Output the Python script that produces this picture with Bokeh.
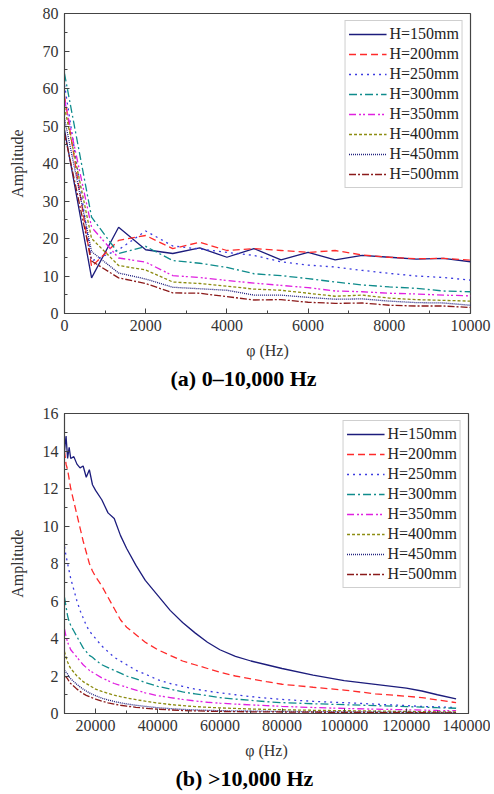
from bokeh.plotting import figure
from bokeh.models import Legend, LegendItem, SingleIntervalTicker, Title, Range1d
from bokeh.layouts import column
from bokeh.embed import file_html
from bokeh.resources import INLINE

labels = ["H=150mm", "H=200mm", "H=250mm", "H=300mm", "H=350mm", "H=400mm", "H=450mm", "H=500mm"]

# Panel (a): 0-10,000 Hz
xa = [0, 667, 1333, 2000, 2667, 3333, 4000, 4667, 5333, 6000, 6667, 7333, 8000, 8667, 9333, 10000]
a150 = [49, 9.5, 23, 17, 16, 17.5, 15, 17.3, 14.3, 16.3, 14.3, 15.5, 15, 14.5, 14.7, 13.8]
a200 = [58, 12.5, 19.5, 20.8, 17.3, 19, 16.8, 17.3, 16.8, 16.3, 16.8, 15.6, 15, 14.6, 14.7, 14.2]
a250 = [61, 14, 17, 22, 18, 17.2, 16.3, 15.5, 13.8, 12.9, 12.4, 11.5, 10.7, 10, 9.6, 8.9]
a300 = [64, 25.7, 16, 17.9, 14.1, 13.4, 12.3, 10.6, 10.1, 9.3, 8.4, 7.6, 7.1, 6.7, 6.0, 5.8]
a350 = [57, 23, 14.8, 13.7, 10.1, 9.6, 8.8, 8.1, 7.5, 6.9, 6.0, 5.8, 5.4, 5.2, 4.9, 4.7]
a400 = [55, 20, 12.8, 11.6, 8.4, 8.0, 7.3, 6.5, 6.2, 5.4, 4.6, 4.9, 4.1, 3.7, 3.5, 3.3]
a450 = [52, 16.5, 10.8, 9.2, 7.0, 6.6, 6.2, 4.9, 4.9, 4.3, 3.8, 3.9, 3.3, 2.9, 2.8, 2.2]
a500 = [48, 14, 9.5, 8.0, 5.5, 5.4, 4.5, 3.6, 3.7, 3.0, 2.7, 2.8, 2.2, 2.0, 2.0, 1.6]

# Panel (b): >10,000 Hz
xb = [10000, 10500, 11000, 11500, 12000, 13000, 14000, 15000, 16000, 17000, 18000, 19000,
      20000, 22000, 24000, 26000, 28000, 30000, 33000, 36000, 40000, 44000, 48000, 52000,
      56000, 60000, 65000, 70000, 75000, 80000, 90000, 100000, 110000, 120000, 125000,
      130000, 136000]
b150 = [14.0, 14.8, 13.6, 14.2, 13.6, 13.7, 13.3, 13.1, 13.2, 12.6, 13.0, 12.2, 11.9, 11.4,
        10.7, 10.4, 9.5, 8.8, 7.9, 7.1, 6.3, 5.5, 4.85, 4.3, 3.8, 3.4, 3.05, 2.8, 2.6, 2.4,
        2.05, 1.75, 1.55, 1.35, 1.2, 1.0, 0.78]
b200 = [14.0, 13.3, 13.0, 12.5, 12.0, 11.3, 10.6, 9.9, 9.2, 8.6, 8.0, 7.6, 7.3, 6.8, 6.2,
        5.6, 5.0, 4.6, 4.2, 3.8, 3.4, 3.1, 2.8, 2.6, 2.4, 2.2, 2.0, 1.85, 1.7, 1.56, 1.4,
        1.25, 1.05, 0.92, 0.85, 0.72, 0.58]
b250 = [8.9, 8.4, 8.0, 7.6, 7.2, 6.6, 6.0, 5.5, 5.1, 4.7, 4.4, 4.2, 4.0, 3.6, 3.3, 3.0, 2.8,
        2.6, 2.3, 2.1, 1.8, 1.6, 1.45, 1.3, 1.2, 1.1, 1.0, 0.9, 0.82, 0.75, 0.65, 0.58, 0.5,
        0.42, 0.38, 0.35, 0.32]
b300 = [6.2, 5.7, 5.2, 4.9, 4.7, 4.4, 4.1, 3.8, 3.5, 3.3, 3.1, 3.0, 2.85, 2.6, 2.45, 2.3,
        2.15, 2.0, 1.85, 1.65, 1.45, 1.3, 1.15, 1.05, 0.95, 0.85, 0.77, 0.7, 0.63, 0.58, 0.52,
        0.47, 0.42, 0.37, 0.34, 0.31, 0.28]
b350 = [4.5, 4.1, 3.8, 3.6, 3.4, 3.2, 3.0, 2.8, 2.6, 2.45, 2.3, 2.2, 2.1, 1.9, 1.75, 1.6,
        1.5, 1.4, 1.25, 1.1, 0.95, 0.85, 0.75, 0.67, 0.6, 0.55, 0.5, 0.46, 0.42, 0.38, 0.32,
        0.27, 0.23, 0.2, 0.18, 0.16, 0.15]
b400 = [3.3, 3.0, 2.75, 2.55, 2.4, 2.2, 2.0, 1.85, 1.7, 1.6, 1.5, 1.4, 1.3, 1.18, 1.07, 0.98,
        0.9, 0.83, 0.74, 0.66, 0.56, 0.48, 0.42, 0.37, 0.33, 0.3, 0.27, 0.24, 0.22, 0.2, 0.17,
        0.15, 0.13, 0.11, 0.1, 0.09, 0.08]
b450 = [2.3, 2.2, 2.1, 1.95, 1.85, 1.7, 1.55, 1.42, 1.3, 1.2, 1.1, 1.02, 0.95, 0.82, 0.72,
        0.64, 0.57, 0.51, 0.44, 0.38, 0.31, 0.26, 0.22, 0.19, 0.17, 0.15, 0.14, 0.13, 0.12,
        0.11, 0.1, 0.09, 0.08, 0.07, 0.06, 0.06, 0.05]
b500 = [2.0, 1.95, 1.85, 1.7, 1.6, 1.45, 1.3, 1.18, 1.06, 0.97, 0.9, 0.83, 0.77, 0.66, 0.57,
        0.5, 0.44, 0.39, 0.33, 0.28, 0.23, 0.19, 0.16, 0.14, 0.12, 0.11, 0.1, 0.09, 0.085, 0.08,
        0.07, 0.06, 0.05, 0.045, 0.04, 0.035, 0.03]

colors = ["#1c1c7c", "#ff2a2a", "#3a3ae0", "#0f8c8c", "#e020e0", "#8c8c10", "#1c1c7c", "#8b1a1a"]
dashes = ["solid", "7 4", "2 4", "8 3 2 3", "7 3 2 2 2 3", "3 2", "1 1", "7 2 2 2"]

FONT = "Liberation Serif"
TXT = "#333333"


def make_fig(xr, yr, xint, yint, mb_left, fw, caption, cap_offset, mb_top):
    p = figure(output_backend="svg", toolbar_location=None,
               frame_width=fw, frame_height=300,
               x_range=Range1d(*xr), y_range=Range1d(*yr),
               min_border_left=mb_left, min_border_right=24, min_border_top=mb_top,
               min_border_bottom=0)
    p.grid.visible = False
    p.outline_line_color = "#444444"
    p.outline_line_width = 1.2
    p.background_fill_color = "white"
    p.border_fill_color = "white"
    p.xaxis.ticker = SingleIntervalTicker(interval=xint, num_minor_ticks=2)
    p.yaxis.ticker = SingleIntervalTicker(interval=yint, num_minor_ticks=2)
    p.axis.major_tick_in = 5
    p.axis.major_tick_out = 0
    p.axis.minor_tick_in = 3
    p.axis.minor_tick_out = 0
    p.axis.axis_line_color = "#444444"
    p.axis.major_tick_line_color = "#444444"
    p.axis.minor_tick_line_color = "#444444"
    p.axis.major_label_text_font = FONT
    p.axis.major_label_text_font_size = "16px"
    p.axis.major_label_text_color = TXT
    p.axis.axis_label_text_font = FONT
    p.axis.axis_label_text_font_size = "16px"
    p.axis.axis_label_text_font_style = "normal"
    p.axis.axis_label_text_color = TXT
    p.xaxis.axis_label = "φ (Hz)"
    p.yaxis.axis_label = "Amplitude"
    p.xaxis.major_label_standoff = 6
    p.xaxis.axis_label_standoff = 8
    p.yaxis.major_label_standoff = 6
    p.yaxis.axis_label_standoff = 14
    p.xaxis.formatter.use_scientific = False
    t = Title(text=caption, text_font=FONT, text_font_size="22px", text_font_style="bold",
              text_color="black", align="left", offset=cap_offset, standoff=4)
    p.add_layout(t, "below")
    return p


def add_lines(p, x, series):
    items = []
    for ys, c, d, lab in zip(series, colors, dashes, labels):
        r = p.line(x, ys, line_color=c, line_dash=d, line_width=1.3)
        items.append(LegendItem(label=lab, renderers=[r]))
    leg = Legend(items=items, location="top_right")
    leg.label_text_font = FONT
    leg.label_text_font_size = "16px"
    leg.label_text_color = "#222222"
    leg.glyph_width = 38
    leg.glyph_height = 20
    leg.label_height = 20
    leg.spacing = 0
    leg.padding = 3
    leg.margin = 7
    leg.label_standoff = 3
    leg.border_line_color = "#a0a0a0"
    leg.border_line_width = 1.5
    p.add_layout(leg)


pa = make_fig((0, 10000), (0, 80), 2000, 10, 64, 406, "(a) 0–10,000 Hz", 106, 13)
add_lines(pa, xa, [a150, a200, a250, a300, a350, a400, a450, a500])

pb = make_fig((10000, 140000), (0, 16), 20000, 2, 62, 404, "(b) >10,000 Hz", 111, 21)
add_lines(pb, xb, [b150, b200, b250, b300, b350, b400, b450, b500])

layout = column(pa, pb, spacing=0)
open("out.html", "w").write(file_html(layout, INLINE))
